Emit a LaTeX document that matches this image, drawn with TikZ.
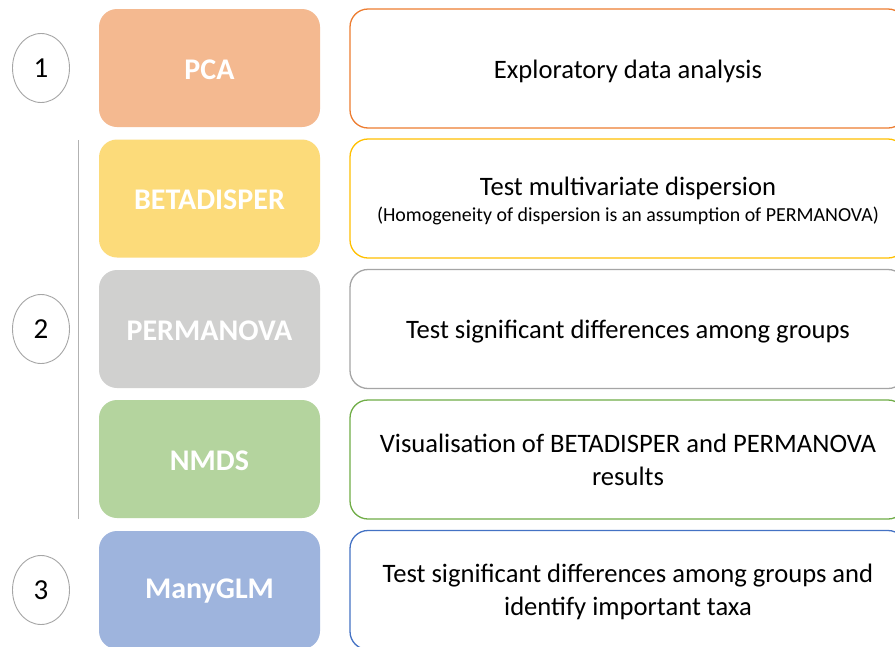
\documentclass[tikz,border=0pt]{standalone}
\usepackage{fontspec}
\setmainfont{Carlito}
\usetikzlibrary{shapes.geometric}
\definecolor{pcafill}{HTML}{F4B990}
\definecolor{betafill}{HTML}{FCDB7A}
\definecolor{permfill}{HTML}{D0D0CF}
\definecolor{nmdsfill}{HTML}{B4D49E}
\definecolor{glmfill}{HTML}{9EB4DD}
\definecolor{pcaline}{HTML}{ED7D31}
\definecolor{betaline}{HTML}{FFC000}
\definecolor{permline}{HTML}{A5A5A5}
\definecolor{nmdsline}{HTML}{70AD47}
\definecolor{glmline}{HTML}{4472C4}
\newcommand{\lowertext}[2]{\raisebox{-#1}[\height][\depth]{\begin{tabular}{@{}c@{}}#2\end{tabular}}}
\newcommand{\lowerword}[2]{\raisebox{-#1}[\height][\depth]{#2}}
\begin{document}
\begin{tikzpicture}[x=1pt,y=-1pt,
  method/.style={rounded corners=18pt, minimum width=221pt, minimum height=118pt,
    inner sep=0pt, text=white, font=\fontsize{30}{34}\selectfont\bfseries},
  descr/.style={rounded corners=18pt, draw, line width=1.3pt, fill=white,
    minimum width=556pt, minimum height=119pt, inner sep=0pt, align=center,
    font=\fontsize{26.6}{33}\selectfont},
  stage/.style={ellipse, draw=gray!70, line width=0.9pt, minimum width=57pt,
    minimum height=69pt, inner sep=0pt, font=\fontsize{29}{32}\selectfont}]
\clip (0,0) rectangle (895,646);
\fill[white] (0,0) rectangle (895,646);
% stage markers
\node[stage] (s1) at (41,68) {1};
\node[stage] (s2) at (41,329) {2};
\node[stage] (s3) at (41,590) {3};
\coordinate (lt) at (78,140);
\coordinate (lb) at (78,519);
\draw[gray!60, line width=0.8pt] (lt) -- (lb);
% method boxes
\node[method, fill=pcafill] (pca) at (209.5,68) {\lowerword{1.5pt}{PCA}};
\node[method, fill=betafill] (beta) at (209.5,198.5) {\lowerword{1.5pt}{BETADISPER}};
\node[method, fill=permfill] (perm) at (209.5,329) {\lowerword{1.5pt}{PERMANOVA}};
\node[method, fill=nmdsfill] (nmds) at (209.5,459) {\lowerword{1.5pt}{NMDS}};
\node[method, fill=glmfill] (glm) at (209.5,590) {\lowerword{1.5pt}{ManyGLM}};
% description boxes
\node[descr, draw=pcaline] (dpca) at (628,68.5) {\lowertext{3pt}{Exploratory data analysis}};
\node[descr, draw=betaline] (dbeta) at (628,198.5) {\lowertext{3pt}{Test multivariate dispersion\\[-7pt]{\fontsize{19.9}{22}\selectfont (Homogeneity of dispersion is an assumption of PERMANOVA)}}};
\node[descr, draw=permline] (dperm) at (628,329) {\lowertext{3pt}{Test significant differences among groups}};
\node[descr, draw=nmdsline] (dnmds) at (628,459.5) {\lowertext{3pt}{Visualisation of BETADISPER and PERMANOVA\\results}};
\node[descr, draw=glmline] (dglm) at (628,590) {\lowertext{2.5pt}{Test significant differences among groups and\\identify important taxa}};
\end{tikzpicture}
\end{document}
